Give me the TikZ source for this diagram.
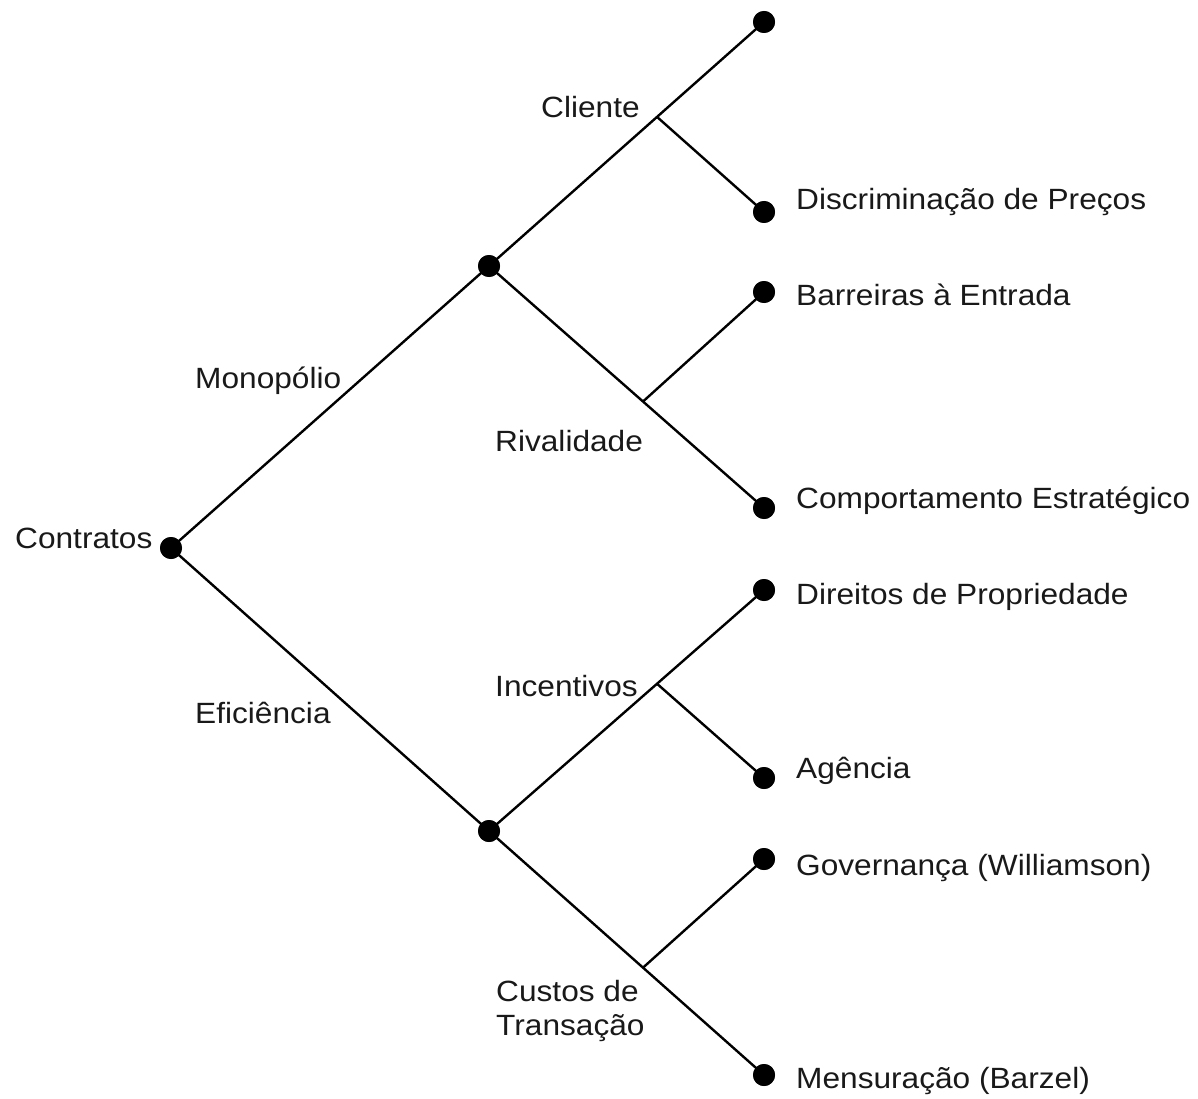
\documentclass[tikz,border=0pt]{standalone}
\usepackage{fontspec}
\setmainfont[FakeStretch=1.08]{Liberation Sans}
\usetikzlibrary{calc}
\begin{document}
\begin{tikzpicture}[x=1pt,y=-1pt,
  dot/.style={circle,fill=black,inner sep=0pt,minimum size=22pt},
  lbl/.style={anchor=base west,inner sep=0pt,text=black!90,font=\fontsize{29.3}{34}\selectfont},
  edge/.style={line width=2.4pt,black}]
\useasboundingbox (0,0) rectangle (1198,1099);
% dots
\node[dot] (c0) at (171,548) {};
\node[dot] (m)  at (489,266) {};
\node[dot] (e)  at (489,831) {};
\node[dot] (t1) at (764,22) {};
\node[dot] (t2) at (764,212) {};
\node[dot] (t3) at (764,292) {};
\node[dot] (t4) at (764,508) {};
\node[dot] (t5) at (764,590) {};
\node[dot] (t6) at (764,778) {};
\node[dot] (t7) at (764,859) {};
\node[dot] (t8) at (764,1075) {};
% branch points
\coordinate (bc) at ($(m.center)!0.611!(t1.center)$);
\coordinate (br) at ($(m.center)!0.56!(t4.center)$);
\coordinate (bi) at ($(e.center)!0.611!(t5.center)$);
\coordinate (bt) at ($(e.center)!0.56!(t8.center)$);
% edges
\draw[edge] (c0.center) -- (m.center);
\draw[edge] (c0.center) -- (e.center);
\draw[edge] (m.center) -- (t1.center);
\draw[edge] (bc) -- (t2.center);
\draw[edge] (m.center) -- (t4.center);
\draw[edge] (br) -- (t3.center);
\draw[edge] (e.center) -- (t5.center);
\draw[edge] (bi) -- (t6.center);
\draw[edge] (e.center) -- (t8.center);
\draw[edge] (bt) -- (t7.center);
% redraw dots on top
\foreach \n in {c0,m,e,t1,t2,t3,t4,t5,t6,t7,t8} {\fill[black] (\n.center) circle (11pt);}
% labels
\node[lbl] (lc0) at (15,548) {Contratos};
\node[lbl] (lm) at (195,388) {Monopólio};
\node[lbl] (le) at (195,723) {Eficiência};
\node[lbl] (lcl) at (541,118) {Cliente};
\node[lbl] (lri) at (495,451) {Rivalidade};
\node[lbl] (lin) at (495,696) {Incentivos};
\node[lbl] (lcu1) at (496,1001) {Custos de};
\node[lbl] (lcu2) at (496,1035) {Transação};
\node[lbl] (l2) at (796,210) {Discriminação de Preços};
\node[lbl] (l3) at (796,305) {Barreiras à Entrada};
\node[lbl] (l4) at (796,508) {Comportamento Estratégico};
\node[lbl] (l5) at (796,604) {Direitos de Propriedade};
\node[lbl] (l6) at (796,778) {Agência};
\node[lbl] (l7) at (796,875) {Governança (Williamson)};
\node[lbl] (l8) at (796,1088) {Mensuração (Barzel)};
\end{tikzpicture}
\end{document}
